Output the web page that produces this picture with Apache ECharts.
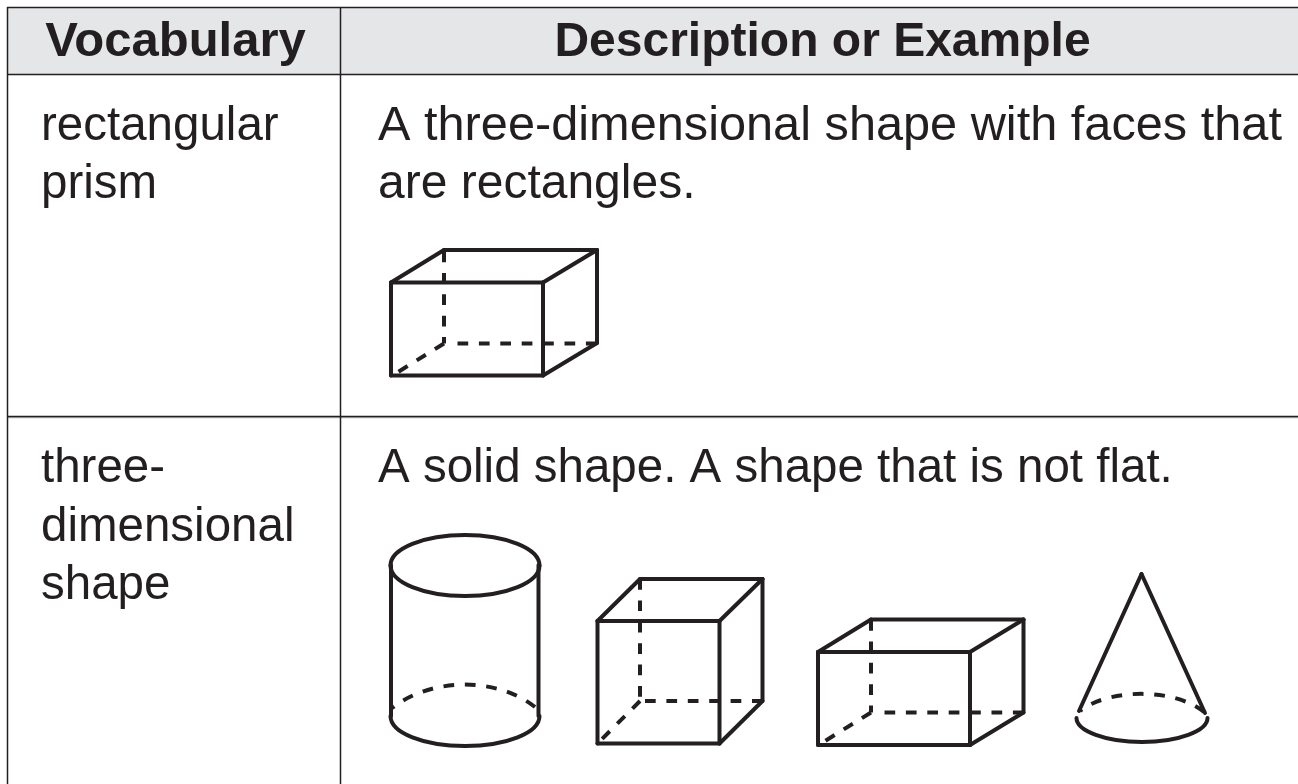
<!DOCTYPE html>
<html>
<head>
<meta charset="utf-8">
<title>Vocabulary</title>
<style>
  html, body { margin: 0; padding: 0; background: #fff; }
  #chart { width: 1298px; height: 784px; }
</style>
<script src="https://cdn.jsdelivr.net/npm/echarts@6/dist/echarts.min.js"></script>
</head>
<body>
<div id="chart"></div>
<script>
// table text
const headers = ['Vocabulary', 'Description or Example'];
const termOne = ['rectangular', 'prism'];
const termTwo = ['three-', 'dimensional', 'shape'];
const descOne = ['A three-dimensional shape with faces that', 'are rectangles.'];
const descTwo = ['A solid shape. A shape that is not flat.'];

// solid edges: x1, y1, x2, y2 in picture units
const solidEdges = [
  // prism
  [391, 282.5, 543, 282.5], [543, 282.5, 543, 375.5], [543, 375.5, 391, 375.5], [391, 375.5, 391, 282.5],
  [391, 282.5, 444, 250], [444, 250, 597, 250], [597, 250, 543, 282.5], [597, 250, 597, 343], [597, 343, 543, 375.5],
  // cylinder sides
  [391, 565, 391, 716], [538.5, 565, 538.5, 716],
  // cube
  [597.5, 621, 719.5, 621], [719.5, 621, 719.5, 743.5], [719.5, 743.5, 597.5, 743.5], [597.5, 743.5, 597.5, 621],
  [597.5, 621, 640, 579], [640, 579, 762.5, 579], [762.5, 579, 719.5, 621], [762.5, 579, 762.5, 701], [762.5, 701, 719.5, 743.5],
  // box
  [818, 652, 970, 652], [970, 652, 970, 745], [970, 745, 818, 745], [818, 745, 818, 652],
  [818, 652, 871, 619.5], [871, 619.5, 1023.5, 619.5], [1023.5, 619.5, 970, 652], [1023.5, 619.5, 1023.5, 712.5], [1023.5, 712.5, 970, 745],
  // cone
  [1141.5, 574, 1079, 711], [1141.5, 574, 1205, 713]
];

// dashed edges, each starts where the first dash starts
const dashedEdges = [
  [457.5, 343.5, 597, 343.5], [444, 251.5, 444, 343.5], [444, 343.5, 398, 372],
  [645, 701, 762.5, 701], [640, 579, 640, 701], [640, 701, 602, 739],
  [884.5, 712.5, 1023.5, 712.5], [871, 620, 871, 712.5], [871, 712.5, 825, 741]
];

// solid curves: x0, y0, cx1, cy1, cx2, cy2, x1, y1
const solidCurves = [
  // cylinder top
  [390.5, 565.5, 390.5, 548.5, 424, 535, 465, 535], [465, 535, 506, 535, 539.5, 548.5, 539.5, 565.5],
  [390.5, 565.5, 390.5, 582.5, 424, 596, 465, 596], [465, 596, 506, 596, 539.5, 582.5, 539.5, 565.5],
  // cylinder bottom
  [390.5, 716, 390.5, 733, 424, 746, 465, 746], [465, 746, 506, 746, 539.5, 733, 539.5, 716],
  // cone base
  [1076.5, 718, 1076.5, 731, 1106, 742, 1142, 742], [1142, 742, 1178, 742, 1207.5, 731, 1207.5, 718]
];

// dashed curves, top halves of the hidden bases
const dashedCurves = [
  [535, 707, 497, 677, 432, 677, 392, 708],
  [1204, 712, 1175, 688, 1109, 688, 1080, 711]
];

const ink = '#231f20';
const bodyFont = '"Liberation Sans", Arial, sans-serif';

// y is the bottom of the text box, about a fifth of the size under the baseline
function textEl(text, baseline, x, size, weight, align) {
  return {
    type: 'text',
    x: x,
    y: baseline + size * 0.212,
    silent: true,
    style: {
      text: text,
      fill: ink,
      font: (weight || 'normal') + ' ' + size + 'px ' + bodyFont,
      textAlign: align || 'left',
      textVerticalAlign: 'bottom'
    }
  };
}

function ruleEl(x1, y1, x2, y2, color) {
  return {
    type: 'line',
    silent: true,
    shape: { x1: x1, y1: y1, x2: x2, y2: y2 },
    style: { stroke: color || ink, lineWidth: 1.5 }
  };
}

function edgeSeries(rows, dashed) {
  return {
    type: 'custom',
    silent: true,
    coordinateSystem: 'cartesian2d',
    data: rows,
    clip: false,
    renderItem: (params, api) => {
      const a = api.coord([api.value(0), api.value(1)]);
      const b = api.coord([api.value(2), api.value(3)]);
      return {
        type: 'line',
        shape: { x1: a[0], y1: a[1], x2: b[0], y2: b[1] },
        style: {
          stroke: ink,
          lineWidth: 4,
          lineCap: dashed ? 'butt' : 'round',
          lineDash: dashed ? [10.7, 10.7] : null,
          fill: null
        }
      };
    }
  };
}

function curveSeries(rows, dashed) {
  return {
    type: 'custom',
    silent: true,
    coordinateSystem: 'cartesian2d',
    data: rows,
    clip: false,
    renderItem: (params, api) => {
      const p0 = api.coord([api.value(0), api.value(1)]);
      const c1 = api.coord([api.value(2), api.value(3)]);
      const c2 = api.coord([api.value(4), api.value(5)]);
      const p1 = api.coord([api.value(6), api.value(7)]);
      return {
        type: 'bezierCurve',
        shape: {
          x1: p0[0], y1: p0[1],
          cpx1: c1[0], cpy1: c1[1],
          cpx2: c2[0], cpy2: c2[1],
          x2: p1[0], y2: p1[1]
        },
        style: {
          stroke: ink,
          lineWidth: 4,
          lineCap: dashed ? 'butt' : 'round',
          lineDash: dashed ? [10.7, 10.7] : null,
          fill: null
        }
      };
    }
  };
}

const chart = echarts.init(document.getElementById('chart'));
chart.setOption({
  animation: false,
  backgroundColor: '#ffffff',
  grid: { left: 0, right: 0, top: 0, bottom: 0 },
  xAxis: { type: 'value', min: 0, max: 1298, show: false },
  yAxis: { type: 'value', min: 0, max: 784, inverse: true, show: false },
  graphic: {
    elements: [
      { type: 'rect', silent: true, z: -1, shape: { x: 7.5, y: 7.5, width: 1290.5, height: 66.5 }, style: { fill: '#e5e6e8' } },
      ruleEl(7, 417.5, 1298, 417.5, '#b5b5b5'),
      ruleEl(7, 7.5, 1298, 7.5),
      ruleEl(7, 74.5, 1298, 74.5),
      ruleEl(7, 416.5, 1298, 416.5),
      ruleEl(7.5, 7, 7.5, 784),
      ruleEl(340.5, 7, 340.5, 784),
      textEl(headers[0], 57, 175.5, 49, 'bold', 'center'),
      textEl(headers[1], 57, 822.5, 48, 'bold', 'center'),
      textEl(termOne[0], 141, 41, 47.5),
      textEl(termOne[1], 199, 41, 47.5),
      textEl(descOne[0], 141, 378, 48.7),
      textEl(descOne[1], 199, 378, 48),
      textEl(termTwo[0], 483, 41, 47.5),
      textEl(termTwo[1], 541.5, 41, 47.5),
      textEl(termTwo[2], 600, 41, 47.5),
      textEl(descTwo[0], 483, 378, 47.5)
    ]
  },
  series: [
    edgeSeries(solidEdges, false),
    edgeSeries(dashedEdges, true),
    curveSeries(solidCurves, false),
    curveSeries(dashedCurves, true)
  ]
});
</script>
</body>
</html>
